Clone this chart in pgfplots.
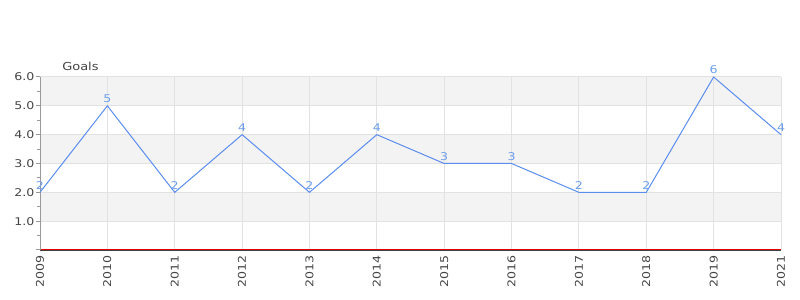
\documentclass[border=0pt]{standalone}
\usepackage{pgfplots}
\pgfplotsset{compat=1.18}
\usepackage{fontspec}
\setmainfont{DejaVu Sans}[FakeStretch=1.18]
\definecolor{linec}{HTML}{5B8DEF}
\definecolor{labc}{HTML}{6D9EEB}
\definecolor{band}{HTML}{F3F3F3}
\definecolor{gridc}{HTML}{E2E2E2}
\definecolor{txt}{HTML}{444444}
\begin{document}
\begin{tikzpicture}
\path (0pt,0pt) rectangle (600pt,225pt);
\begin{axis}[set layers,
  at={(30pt,37.5pt)}, anchor=south west,
  scale only axis, width=555.75pt, height=129.75pt,
  xmin=0, xmax=11, ymin=0, ymax=6,
  xtick={0,...,11},
  xticklabels={2009,2010,2011,2012,2013,2014,2015,2016,2017,2018,2019,2021},
  ytick={0,...,6}, yticklabels={,1.0,2.0,3.0,4.0,5.0,6.0},
  minor ytick={0.5,1.5,...,5.5},
  axis lines*=left,
  x axis line style={draw=red!90!black, line width=0.8pt, yshift=0.4pt},
  y axis line style={draw=gray!80, line width=0.75pt},
  grid=major, grid style={draw=gridc, line width=0.75pt},
  tick align=outside,
  xtick style={draw=none},
  ytick style={draw=gray!80, line width=0.75pt},
  major tick length=3pt, minor tick length=2.25pt,
  tick label style={font=\fontsize{8}{9}\selectfont, text=txt},
  /pgf/number format/assume math mode=true,
  xticklabel style={rotate=90, anchor=east, inner sep=1pt},
  yticklabel style={inner sep=1pt},
  clip=false,
  after end axis/.code={
    \draw[draw=black!75, line width=0.75pt] ([yshift=-0.45pt]axis cs:0,0) -- ([yshift=-0.45pt]axis cs:11,0);
  },
]
\addplot[on layer=axis background, fill=band, draw=none] coordinates {(0,1)(11,1)(11,2)(0,2)} --cycle;
\addplot[on layer=axis background, fill=band, draw=none] coordinates {(0,3)(11,3)(11,4)(0,4)} --cycle;
\addplot[on layer=axis background, fill=band, draw=none] coordinates {(0,5)(11,5)(11,6)(0,6)} --cycle;
\addplot[linec, line width=0.75pt, mark=none, nodes near coords,
  nodes near coords style={font=\fontsize{8}{9}\selectfont, text=labc, anchor=south, inner sep=2pt}]
  coordinates {(0,2)(1,5)(2,2)(3,4)(4,2)(5,4)(6,3)(7,3)(8,2)(9,2)(10,6)(11,4)};
\end{axis}
\node[anchor=base west, font=\fontsize{8.25}{10}\selectfont, text=txt, inner sep=0pt] at (46.5pt,171.75pt) {Goals};
\end{tikzpicture}
\end{document}
